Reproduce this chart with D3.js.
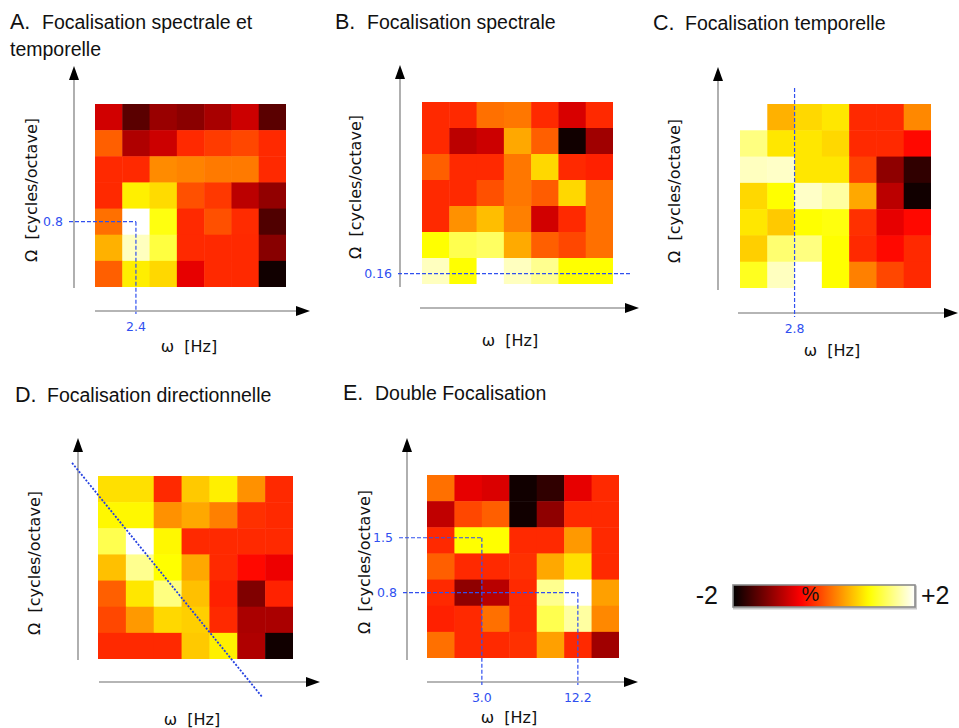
<!DOCTYPE html>
<html><head><meta charset="utf-8">
<script src="https://cdn.jsdelivr.net/npm/d3@7/dist/d3.min.js"></script>
<style>
body{margin:0;background:#fff}
svg{display:block}
text{font-family:"Liberation Sans",Arial,sans-serif;fill:#111}
.ax{font-family:"DejaVu Sans",sans-serif;font-size:16px;white-space:pre}
.ann{font-family:"DejaVu Sans",sans-serif;font-size:12.5px;fill:#2f4ff0}
</style></head><body>
<svg id="fig" width="959" height="728"></svg>
<script>
// ---- data -------------------------------------------------------------
const panelLetters = ["A.", "B.", "C.", "D.", "E."];
const panelTitles = [
  ["Focalisation spectrale et", "temporelle"],
  ["Focalisation spectrale"],
  ["Focalisation temporelle"],
  ["Focalisation directionnelle"],
  ["Double Focalisation"]
];
const xAxisLabel = "ω  [Hz]";
const yAxisLabel = "Ω  [cycles/octave]";

// modulation change (%) per cell; rows top→bottom, columns left→right
const gridA = [
  [-0.77, -1.47, -1.10, -1.19, -1.01, -0.80, -1.47],
  [ 0.06, -0.97, -0.80, -0.26, -0.15, -0.08, -0.26],
  [-0.26, -0.26,  0.32,  0.27,  0.22,  0.22, -0.26],
  [-0.26,  0.91,  0.79, -0.03, -0.17, -0.90, -1.14],
  [ 0.16,  2.00,  1.06, -0.26, -0.03, -0.25, -1.53],
  [ 0.54,  1.75,  1.25, -0.26, -0.26, -0.26, -1.20],
  [ 0.06,  0.90,  0.77, -0.64, -0.26, -0.26, -1.90]
];
const gridB = [
  [-0.26, -0.26,  0.16,  0.20, -0.26, -0.73, -0.26],
  [-0.26, -0.90, -0.80,  0.49,  0.06, -1.90, -1.06],
  [ 0.06, -0.26, -0.26,  0.20,  0.77, -0.26, -0.31],
  [-0.26, -0.26, -0.03,  0.20,  0.04,  0.77,  0.16],
  [-0.26,  0.35,  0.62,  0.25, -0.77, -0.26,  0.16],
  [ 1.00,  1.31,  1.38,  0.50,  0.06, -0.08,  0.16],
  [ 1.75,  1.00,  2.00,  1.75,  1.56,  1.00,  1.00]
];
const gridC = [
  [ 2.00,  0.54,  0.77,  0.86, -0.26, -0.26,  0.30],
  [ 1.50,  0.86,  0.86,  0.77, -0.26, -0.26, -0.45],
  [ 1.75,  1.78,  0.86,  0.86, -0.12, -1.16, -1.72],
  [ 0.77,  1.00,  1.78,  1.63,  0.49, -0.90, -1.90],
  [ 0.86,  0.68,  1.00,  1.05, -0.22, -0.64, -0.45],
  [ 0.72,  1.44,  1.50,  1.00, -0.26, -0.45, -0.26],
  [ 1.12,  1.75,  2.00,  1.00,  0.25, -0.08, -0.26]
];
const gridD = [
  [ 0.82,  0.82, -0.26,  0.68,  0.91,  0.35, -0.26],
  [ 0.96,  0.96,  0.35,  0.49,  0.25, -0.22, -0.26],
  [ 1.31,  2.00,  0.96, -0.26, -0.26, -0.26, -0.26],
  [ 0.63,  1.56,  1.00,  0.49, -0.26, -0.45, -0.60],
  [ 0.06,  0.86,  1.50,  0.63, -0.31, -1.25, -0.30],
  [-0.08,  0.40,  0.77,  0.72, -0.26, -1.00, -1.00],
  [-0.26, -0.26, -0.26,  0.68,  0.91, -0.97, -1.90]
];
const gridE = [
  [ 0.16, -0.64, -0.72, -1.90, -1.72, -0.64, -0.26],
  [-0.87, -0.08,  0.06, -1.90, -1.16, -0.26, -0.26],
  [-0.26,  1.00,  1.00, -0.26, -0.26,  0.40, -0.26],
  [ 0.06, -0.26, -0.26, -0.22,  0.49,  0.82, -0.26],
  [-0.26, -1.16, -0.92, -0.26,  1.56,  2.00,  0.44],
  [-0.31, -0.26,  0.16, -0.26,  1.31,  1.63,  0.30],
  [ 0.16, -0.26, -0.26, -0.22,  0.44, -0.26, -1.06]
];
const grids = [gridA, gridB, gridC, gridD, gridE];

// reference guides, in cell units (column c, row r) with their values
const guidesA = [{c: 1.5, r: 4.5, xText: "2.4", yText: "0.8"}];
const guidesB = [{r: 6.6, yText: "0.16"}];
const guidesC = [{c: 2.0, xText: "2.8"}];
const guidesD = [];
const guidesE = [{c: 2.0, r: 2.4, xText: "3.0", yText: "1.5"},
                 {c: 5.5, r: 4.5, xText: "12.2", yText: "0.8"}];
const guides = [guidesA, guidesB, guidesC, guidesD, guidesE];
const diagonalD = [{c: -0.93, r: -0.5}, {c: 5.89, r: 8.45}];

const colorStops = [-2, -0.5, 1, 2];
const colorHues = ["#000000", "#ff0000", "#ffff00", "#ffffff"];
const colorbarLabels = ["-2", "+2"];
const colorbarUnit = "%";

// ---- layout -----------------------------------------------------------
const layout = [
  {title: [10, 29],  heat: [95, 286, 104, 287],  yAx: [74, 288, 66],  xAx: [311, 95, 310],  yLab: [37, 190],  xLab: [189, 352], drop: 3},
  {title: [335, 29], heat: [422, 613, 102, 284], yAx: [400, 287, 65], xAx: [308, 420, 639], yLab: [361, 187], xLab: [510, 346], drop: 3},
  {title: [653, 30], heat: [740, 931, 104, 288], yAx: [718, 290, 67], xAx: [313, 738, 958], yLab: [680, 191], xLab: [832, 356], drop: 4},
  {title: [15, 402], heat: [98, 293, 476, 659],  yAx: [78, 660, 438], xAx: [682, 99, 320],  yLab: [40, 563],  xLab: [192, 725], drop: 3},
  {title: [343, 400],heat: [427, 619, 475, 658], yAx: [407, 660, 438],xAx: [682, 427, 638], yLab: [370, 562], xLab: [509, 723], drop: 3}
];
const guideLeads = [[5], [2], [0], [], [8, 4]];

const svg = d3.select("#fig");
const color = d3.scaleLinear().domain(colorStops).range(colorHues).clamp(true);
const AXIS = "#9c9c9c", GUIDE = "#3050f0";

function dashed(sel) {
  return sel.attr("stroke", GUIDE).attr("stroke-width", 1.2)
    .attr("stroke-dasharray", "4,2").attr("fill", "none");
}

layout.forEach((L, i) => {
  const g = svg.append("g");
  const grid = grids[i];
  const nR = grid.length, nC = grid[0].length;
  const [hx0, hx1, hy0, hy1] = L.heat;
  const xb = d3.scaleBand().domain(d3.range(nC)).range([hx0, hx1]);
  const yb = d3.scaleBand().domain(d3.range(nR)).range([hy0, hy1]);
  const xc = d3.scaleLinear().domain([0, nC]).range([hx0, hx1]);
  const yc = d3.scaleLinear().domain([0, nR]).range([hy0, hy1]);

  // heat cells
  const cells = grid.flatMap((row, r) => row.map((v, c) => ({r, c, v})));
  g.append("g").selectAll("rect").data(cells).join("rect")
    .attr("x", d => xb(d.c)).attr("y", d => yb(d.r))
    .attr("width", d => xb.bandwidth() + (d.c < nC - 1 ? 0.5 : 0))
    .attr("height", d => yb.bandwidth() + (d.r < nR - 1 ? 0.5 : 0))
    .attr("fill", d => color(d.v));

  // axes with arrowheads
  const [ax, ay0, ay1] = L.yAx;
  g.append("line").attr("x1", ax).attr("x2", ax).attr("y1", ay0).attr("y2", ay1 + 10)
    .attr("stroke", AXIS).attr("stroke-width", 1.6);
  g.append("path").attr("d", `M${ax},${ay1} L${ax - 5},${ay1 + 14} L${ax + 5},${ay1 + 14} Z`).attr("fill", "#000");
  const [xy, xx0, xx1] = L.xAx;
  g.append("line").attr("x1", xx0).attr("x2", xx1 - 10).attr("y1", xy).attr("y2", xy)
    .attr("stroke", AXIS).attr("stroke-width", 1.6);
  g.append("path").attr("d", `M${xx1},${xy} L${xx1 - 14},${xy - 5} L${xx1 - 14},${xy + 5} Z`).attr("fill", "#000");

  // axis titles
  g.append("text").attr("class", "ax")
    .attr("transform", `translate(${L.yLab[0]},${L.yLab[1]}) rotate(-90)`)
    .attr("text-anchor", "middle").text(yAxisLabel);
  g.append("text").attr("class", "ax").attr("x", L.xLab[0]).attr("y", L.xLab[1])
    .attr("text-anchor", "middle").text(xAxisLabel);

  // panel title
  const t = g.append("text").attr("x", L.title[0]).attr("y", L.title[1]);
  t.append("tspan").attr("font-size", 21.5).text(panelLetters[i]);
  t.append("tspan").attr("x", L.title[0] + 32).attr("font-size", 19.5).text(panelTitles[i][0]);
  if (panelTitles[i][1]) {
    g.append("text").attr("x", L.title[0]).attr("y", L.title[1] + 27).attr("font-size", 19.5).text(panelTitles[i][1]);
  }

  // reference guides
  guides[i].forEach((gd, k) => {
    const lead = guideLeads[i][k] || 0;
    const hasX = gd.c !== undefined, hasY = gd.r !== undefined;
    const px = hasX ? xc(gd.c) : null, py = hasY ? yc(gd.r) : null;
    if (hasY) {
      const xs = ax - lead;
      const xe = hasX ? px : hx1 + 17;
      g.append("line").attr("x1", xs).attr("x2", xe).attr("y1", py).attr("y2", py).call(dashed);
      g.append("text").attr("class", "ann").attr("x", xs - 6).attr("y", py + 4.5)
        .attr("text-anchor", "end").text(gd.yText);
    }
    if (hasX) {
      const ys = hasY ? py : hy0 - 16;
      const ye = xy + L.drop;
      g.append("line").attr("x1", px).attr("x2", px).attr("y1", ys).attr("y2", ye).call(dashed);
      g.append("text").attr("class", "ann").attr("x", px).attr("y", xy + 20)
        .attr("text-anchor", "middle").text(gd.xText);
    }
  });

  if (i === 3) {
    g.append("line")
      .attr("x1", xc(diagonalD[0].c)).attr("y1", yc(diagonalD[0].r))
      .attr("x2", xc(diagonalD[1].c)).attr("y2", yc(diagonalD[1].r))
      .attr("stroke", "#2440e0").attr("stroke-width", 1.8).attr("stroke-dasharray", "2,1.6");
  }
});

// colour bar
const cb = {x0: 733, x1: 915, y0: 585, y1: 607};
const defs = svg.append("defs");
const grad = defs.append("linearGradient").attr("id", "cbGrad");
d3.range(0, 1.0001, 0.02).forEach(f => {
  grad.append("stop").attr("offset", f).attr("stop-color", color(colorStops[0] + f * (colorStops[3] - colorStops[0])));
});
const cbScale = d3.scaleLinear().domain([colorStops[0], colorStops[3]]).range([cb.x0, cb.x1]);
svg.append("rect").attr("x", cb.x0 + 1).attr("y", cb.y0 + 1.5).attr("width", cb.x1 - cb.x0).attr("height", cb.y1 - cb.y0)
  .attr("fill", "none").attr("stroke", "#c8c8c8").attr("stroke-width", 2);
svg.append("rect").attr("x", cbScale(colorStops[0])).attr("y", cb.y0)
  .attr("width", cbScale(colorStops[3]) - cbScale(colorStops[0])).attr("height", cb.y1 - cb.y0)
  .attr("fill", "url(#cbGrad)").attr("stroke", "#8a8a8a").attr("stroke-width", 1.6);
svg.append("text").attr("x", cbScale(colorStops[0]) - 15).attr("y", 604).attr("text-anchor", "end")
  .attr("font-size", 25).text(colorbarLabels[0]);
svg.append("text").attr("x", cbScale(colorStops[3]) + 6).attr("y", 604).attr("text-anchor", "start")
  .attr("font-size", 25).text(colorbarLabels[1]);
svg.append("text").attr("x", cbScale(-0.3)).attr("y", 601).attr("text-anchor", "middle")
  .attr("font-size", 20).text(colorbarUnit);
</script>
</body></html>
